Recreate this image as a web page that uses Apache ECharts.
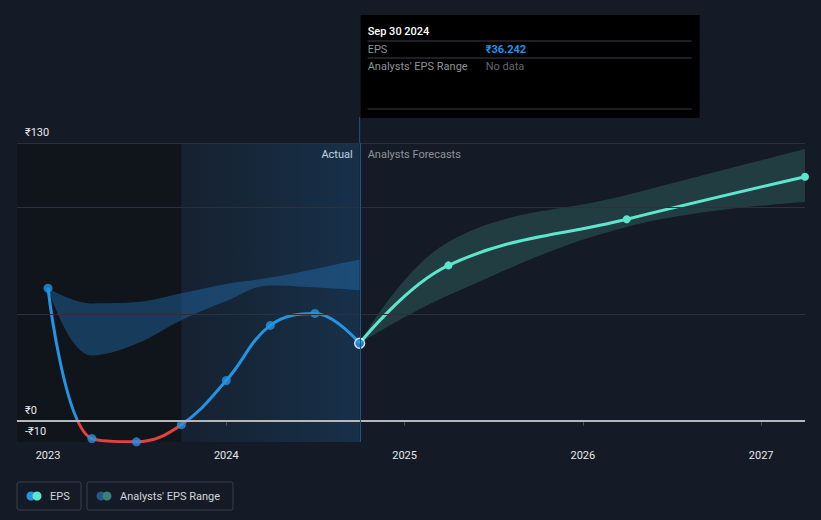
<!DOCTYPE html>
<html>
<head>
<meta charset="utf-8">
<script src="https://cdn.jsdelivr.net/npm/echarts@6/dist/echarts.min.js"></script>
<style>
  html, body { margin: 0; background: #151b26; }
  #chart { width: 821px; height: 520px; }
</style>
</head>
<body>
<div id="chart"></div>
<script>
  // quarter ends as decimal years
  const actualDates = [2023.0, 2023.246, 2023.496, 2023.748, 2024.0, 2024.247, 2024.497, 2024.748];
  const actualEps = [62, -8.4, -9.9, -1.9, 18.8, 44.6, 50.2, 36.242];
  const pastRangeLow = [62, 30.5, 36, 47, 56, 63.3, 62.4, 61];
  const pastRangeHigh = [62, 54.9, 55.5, 59.6, 64, 67, 71, 75.4];
  const forecastDates = [2024.748, 2025.246, 2026.246, 2027.246];
  const forecastEps = [36.242, 72.7, 94.3, 114.2];
  const forecastLow = [36.242, 58.7, 90.7, 102.4];
  const forecastHigh = [36.242, 83.7, 105.6, 127.2];
  const yearTicks = [2023, 2024, 2025, 2026, 2027];
  const yLabels = [-10, 0, 130];
  const gridValues = [50, 100, 130];
  const splitDate = 2023.748;
  const lastActual = 2024.748;

  const font = 'Roboto, "Noto Sans", sans-serif';
  const blue = '#2394e4';
  const red = '#e5423f';
  const teal = '#5de6cc';
  const pair = (xs, ys) => xs.map((x, i) => [x, ys[i]]);
  // value first so the stack works on y (encode maps it back)
  const flip = (xs, ys) => xs.map((x, i) => [ys[i], x]);
  const diff = (hi, lo) => hi.map((v, i) => v - lo[i]);
  const money = v => (v < 0 ? '-₹' + (-v) : '₹' + v);

  let chart = echarts.init(document.getElementById('chart'), null, {renderer: 'svg'});

  // axes first, so pixel positions can be read for the gradient and overlay
  chart.setOption({
    backgroundColor: '#151b26',
    animation: false,
    textStyle: {fontFamily: font},
    grid: {left: 17, right: 16, top: 143, bottom: 78},
    xAxis: {
      type: 'value',
      min: 2022.826,
      max: 2027.246,
      axisLine: {show: true, lineStyle: {color: '#4a4f58', width: 1}},
      axisTick: {show: true, customValues: yearTicks, length: 5, lineStyle: {color: '#4a4f58'}},
      axisLabel: {
        customValues: yearTicks,
        color: '#e6e8eb',
        fontSize: 11,
        margin: 8,
        formatter: v => String(v)
      },
      splitLine: {show: false}
    },
    yAxis: {
      type: 'value',
      min: -10,
      max: 130,
      interval: 10,
      axisLine: {show: false},
      axisTick: {show: false},
      splitLine: {show: false},
      axisLabel: {show: false}
    }
  });

  const yTop = chart.convertToPixel({yAxisIndex: 0}, 130);
  const yBottom = chart.convertToPixel({yAxisIndex: 0}, -10);
  const yZero = chart.convertToPixel({yAxisIndex: 0}, 0);
  const xLast = chart.convertToPixel({xAxisIndex: 0}, lastActual);

  // red below zero, blue above: hard stop at the zero line
  const f = (yZero - yTop) / (yBottom - yTop);
  const epsColor = new echarts.graphic.LinearGradient(0, yTop, 0, yBottom, [
    {offset: 0, color: blue}, {offset: f, color: blue},
    {offset: f, color: red}, {offset: 1, color: red}
  ], true);

  const boxLeft = xLast + 1;
  const boxW = 339;
  const tx = boxLeft + 7;
  const vx = boxLeft + 125;
  const sep = (y) => ({type: 'line', shape: {x1: tx, y1: y, x2: boxLeft + boxW - 8, y2: y}, style: {stroke: '#3a3f48', lineWidth: 1}});
  const txt = (x, y, text, color, weight, align) => ({
    type: 'text', x: x, y: y,
    style: {text: text, fill: color, font: (weight || 'normal') + ' 11px ' + font, textAlign: align || 'left', textVerticalAlign: 'middle'}
  });
  const legendItem = (x, w, c1, c2, label) => ({
    type: 'group',
    children: [
      {type: 'rect', shape: {x: x, y: 482, width: w, height: 28, r: 2}, style: {fill: 'transparent', stroke: '#3a3f48', lineWidth: 1}},
      {type: 'circle', shape: {cx: x + 14, cy: 496, r: 4.5}, style: {fill: c1}},
      {type: 'circle', shape: {cx: x + 20, cy: 496, r: 4.5}, style: {fill: c2}},
      txt(x + 33, 496, label, '#d3d6db', 'normal')
    ]
  });

  const gridLines = gridValues.map(v => ({yAxis: v, lineStyle: {color: '#2b313b', width: 1, type: 'solid'}}));
  const tickLabels = yLabels.map(v => ({
    yAxis: v,
    lineStyle: {color: 'rgba(0,0,0,0)', width: 0},
    label: {show: true, formatter: money(v), position: 'insideStartTop', distance: [8, 5], color: '#e6e8eb', fontSize: 11, fontFamily: font}
  }));

  const band = (name, stack, data, area) => ({
    name: name,
    type: 'line',
    stack: stack,
    smooth: 0.4,
    symbol: 'none',
    lineStyle: {width: 0},
    areaStyle: area ? {color: area} : undefined,
    encode: {x: 1, y: 0},
    data: data,
    silent: true
  });

  const pastLow = band('pastLow', 'past', flip(actualDates, pastRangeLow));
  pastLow.markArea = {
    silent: true,
    data: [
      [{xAxis: 2022.826, itemStyle: {color: '#10141b'}}, {xAxis: splitDate}],
      [{
        xAxis: splitDate,
        itemStyle: {
          color: new echarts.graphic.LinearGradient(0, 0, 1, 0, [
            {offset: 0, color: 'rgba(28, 80, 125, 0.12)'},
            {offset: 1, color: 'rgba(28, 95, 150, 0.32)'}
          ])
        }
      }, {xAxis: lastActual}]
    ]
  };
  pastLow.markLine = {
    silent: true,
    symbol: 'none',
    label: {show: false},
    data: gridLines.concat(tickLabels, [
      {yAxis: 0, lineStyle: {color: '#b4b7bc', width: 2, type: 'solid'}},
      {xAxis: lastActual, lineStyle: {color: '#1f5580', width: 1, type: 'solid'}}
    ])
  };

  chart.setOption({
    series: [
      pastLow,
      band('pastRange', 'past', flip(actualDates, diff(pastRangeHigh, pastRangeLow)), 'rgba(36, 122, 196, 0.55)'),
      band('fcLow', 'fc', flip(forecastDates, forecastLow)),
      band('fcRange', 'fc', flip(forecastDates, diff(forecastHigh, forecastLow)), 'rgba(78, 170, 155, 0.35)'),
      {
        name: 'EPS',
        type: 'line',
        smooth: 0.4,
        showSymbol: false,
        lineStyle: {width: 3, color: epsColor},
        data: pair(actualDates, actualEps),
        silent: true
      },
      {
        name: 'EPS points',
        type: 'scatter',
        symbolSize: 9,
        itemStyle: {color: blue},
        data: pair(actualDates, actualEps).map((p, i, arr) => i === arr.length - 1
          ? {value: p, symbolSize: 10, itemStyle: {color: blue, borderColor: '#ffffff', borderWidth: 1.5}}
          : p),
        z: 4,
        silent: true
      },
      {
        name: 'EPS forecast',
        type: 'line',
        smooth: 0.4,
        symbol: 'circle',
        symbolSize: (v, p) => (p.dataIndex === 0 ? 0 : 8),
        showSymbol: true,
        lineStyle: {width: 3, color: teal},
        itemStyle: {color: teal},
        data: pair(forecastDates, forecastEps),
        silent: true
      }
    ],
    graphic: [
      {type: 'line', shape: {x1: xLast, y1: 117, x2: xLast, y2: yTop}, style: {stroke: '#1f5580', lineWidth: 1}},
      {type: 'rect', shape: {x: boxLeft, y: 15, width: boxW, height: 103}, style: {fill: '#000000'}},
      txt(tx, 31, 'Sep 30 2024', '#ffffff', '500'),
      sep(41),
      txt(tx, 49, 'EPS', '#8e939a'),
      txt(vx, 49, '₹36.242', blue, 'bold'),
      sep(58),
      txt(tx, 66, "Analysts' EPS Range", '#8e939a'),
      txt(vx, 66, 'No data', '#62676e'),
      sep(109),
      txt(xLast - 7, yTop + 11, 'Actual', '#ffffff', 'normal', 'right'),
      txt(xLast + 8, yTop + 11, 'Analysts Forecasts', '#8e939a', 'normal', 'left'),
      legendItem(17, 64, blue, teal, 'EPS'),
      legendItem(87, 146, '#1d5a8a', '#3c8078', "Analysts' EPS Range")
    ]
  });
</script>
</body>
</html>
